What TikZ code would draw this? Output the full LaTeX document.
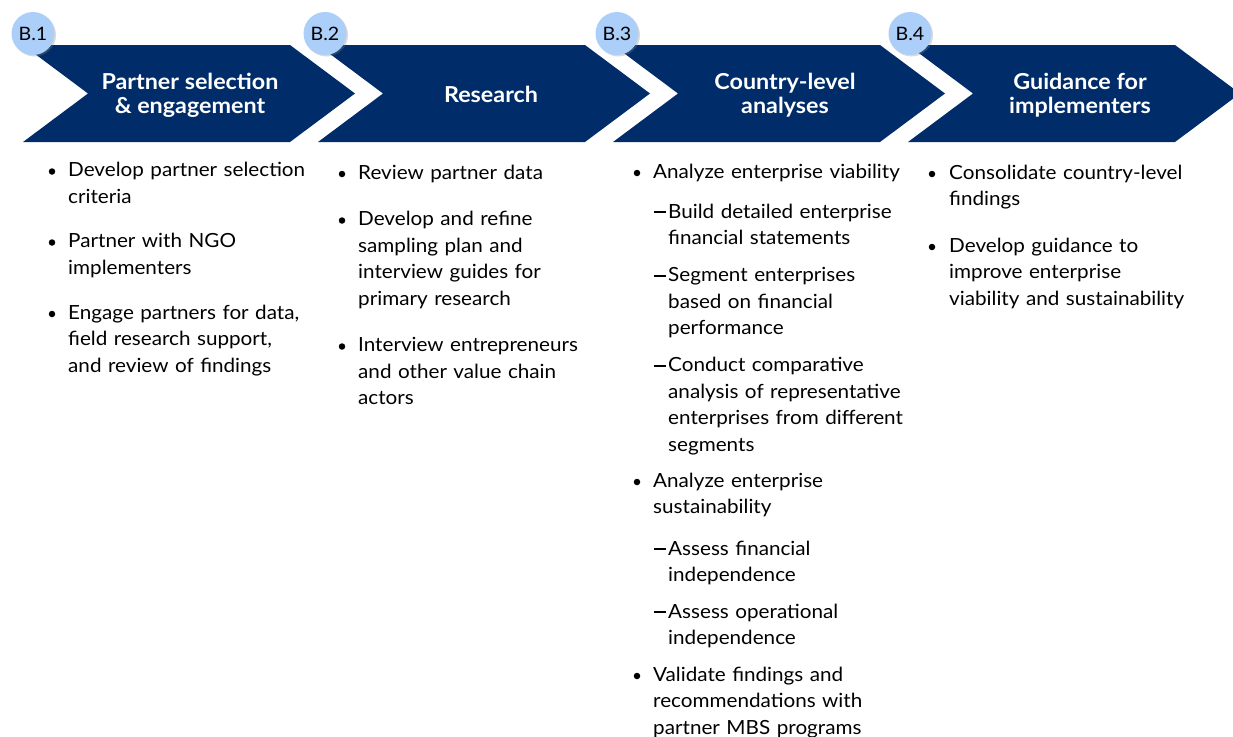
\documentclass[tikz,border=0pt]{standalone}
\usepackage{fontspec}
\setmainfont{Lato}[FakeStretch=1.06]
\usetikzlibrary{shadows}
\definecolor{navy}{RGB}{0,45,106}
\definecolor{badgeblue}{RGB}{172,207,250}
\newcommand{\subdash}{\rule[5pt]{12pt}{1.7pt}}
\begin{document}
\begin{tikzpicture}[x=1pt,y=-1pt,
  chev/.style={fill=navy},
  ttl/.style={text=white,font=\bfseries\fontsize{22}{24}\selectfont,align=center,inner sep=0},
  badgec/.style={circle,fill=badgeblue,minimum size=43pt,inner sep=0,
    font=\fontsize{18.5}{18.5}\selectfont,
    drop shadow={shadow xshift=1.5pt,shadow yshift=-1.5pt,opacity=0.3}},
  itm/.style={anchor=base west,inner sep=0,align=left,text width=280pt,
    font=\fontsize{19.5}{26.5}\selectfont},
  bul/.style={circle,fill=black,inner sep=0,minimum size=6.5pt},
  dsh/.style={anchor=base west,inner sep=0}
]
\useasboundingbox (0,0) rectangle (1233,736);
\clip (0,0) rectangle (1233,736);
% chevrons
\foreach \L in {23,318,613,908}{
  \fill[chev] (\L,45) -- ++(267,0) -- ++(65,48.5) -- ++(-65,48.5) -- ++(-267,0) -- ++(65,-48.5) -- cycle;
}
% titles
\node[ttl] (t1) at (190,95.5) {Partner selection\\\& engagement};
\node[ttl] (t2) at (491,94) {Research};
\node[ttl] (t3) at (785,95.5) {Country-level\\analyses};
\node[ttl] (t4) at (1080,95.5) {Guidance for\\implementers};
% badges
\node[badgec] (b1) at (33,33.5) {B.1};
\node[badgec] (b2) at (325,33.5) {B.2};
\node[badgec] (b3) at (617,33.5) {B.3};
\node[badgec] (b4) at (910,33.5) {B.4};
% column 1
\node[bul] (c1b1) at (52,171.5) {};
\node[itm] (c1i1) at (68,176.5) {Develop partner selection\\criteria};
\node[bul] (c1b2) at (52,242.5) {};
\node[itm] (c1i2) at (68,247.5) {Partner with NGO\\implementers};
\node[bul] (c1b3) at (52,314) {};
\node[itm] (c1i3) at (68,319) {Engage partners for data,\\field research support,\\and review of findings};
% column 2
\node[bul] (c2b1) at (342,174) {};
\node[itm] (c2i1) at (358,179) {Review partner data};
\node[bul] (c2b2) at (342,220.5) {};
\node[itm] (c2i2) at (358,225.5) {Develop and refine\\sampling plan and\\interview guides for\\primary research};
\node[bul] (c2b3) at (342,346.5) {};
\node[itm] (c2i3) at (358,351.5) {Interview entrepreneurs\\and other value chain\\actors};
% column 3
\node[bul] (c3b1) at (637,173) {};
\node[itm] (c3i1) at (653,178) {Analyze enterprise viability};
\node[dsh] (c3d1) at (654,218) {\subdash};
\node[itm] (c3s1) at (668,218) {Build detailed enterprise\\financial statements};
\node[dsh] (c3d2) at (654,281.5) {\subdash};
\node[itm] (c3s2) at (668,281.5) {Segment enterprises\\based on financial\\performance};
\node[dsh] (c3d3) at (654,371.5) {\subdash};
\node[itm] (c3s3) at (668,371.5) {Conduct comparative\\analysis of representative\\enterprises from different\\segments};
\node[bul] (c3b2) at (637,482) {};
\node[itm] (c3i2) at (653,487) {Analyze enterprise\\sustainability};
\node[dsh] (c3d4) at (654,555) {\subdash};
\node[itm] (c3s4) at (668,555) {Assess financial\\independence};
\node[dsh] (c3d5) at (654,618) {\subdash};
\node[itm] (c3s5) at (668,618) {Assess operational\\independence};
\node[bul] (c3b3) at (637,676) {};
\node[itm] (c3i3) at (653,681) {Validate findings and\\recommendations with\\partner MBS programs};
% column 4
\node[bul] (c4b1) at (932,174) {};
\node[itm] (c4i1) at (949,179) {Consolidate country-level\\findings};
\node[bul] (c4b2) at (932,247) {};
\node[itm] (c4i2) at (949,252) {Develop guidance to\\improve enterprise\\viability and sustainability};
\end{tikzpicture}
\end{document}
